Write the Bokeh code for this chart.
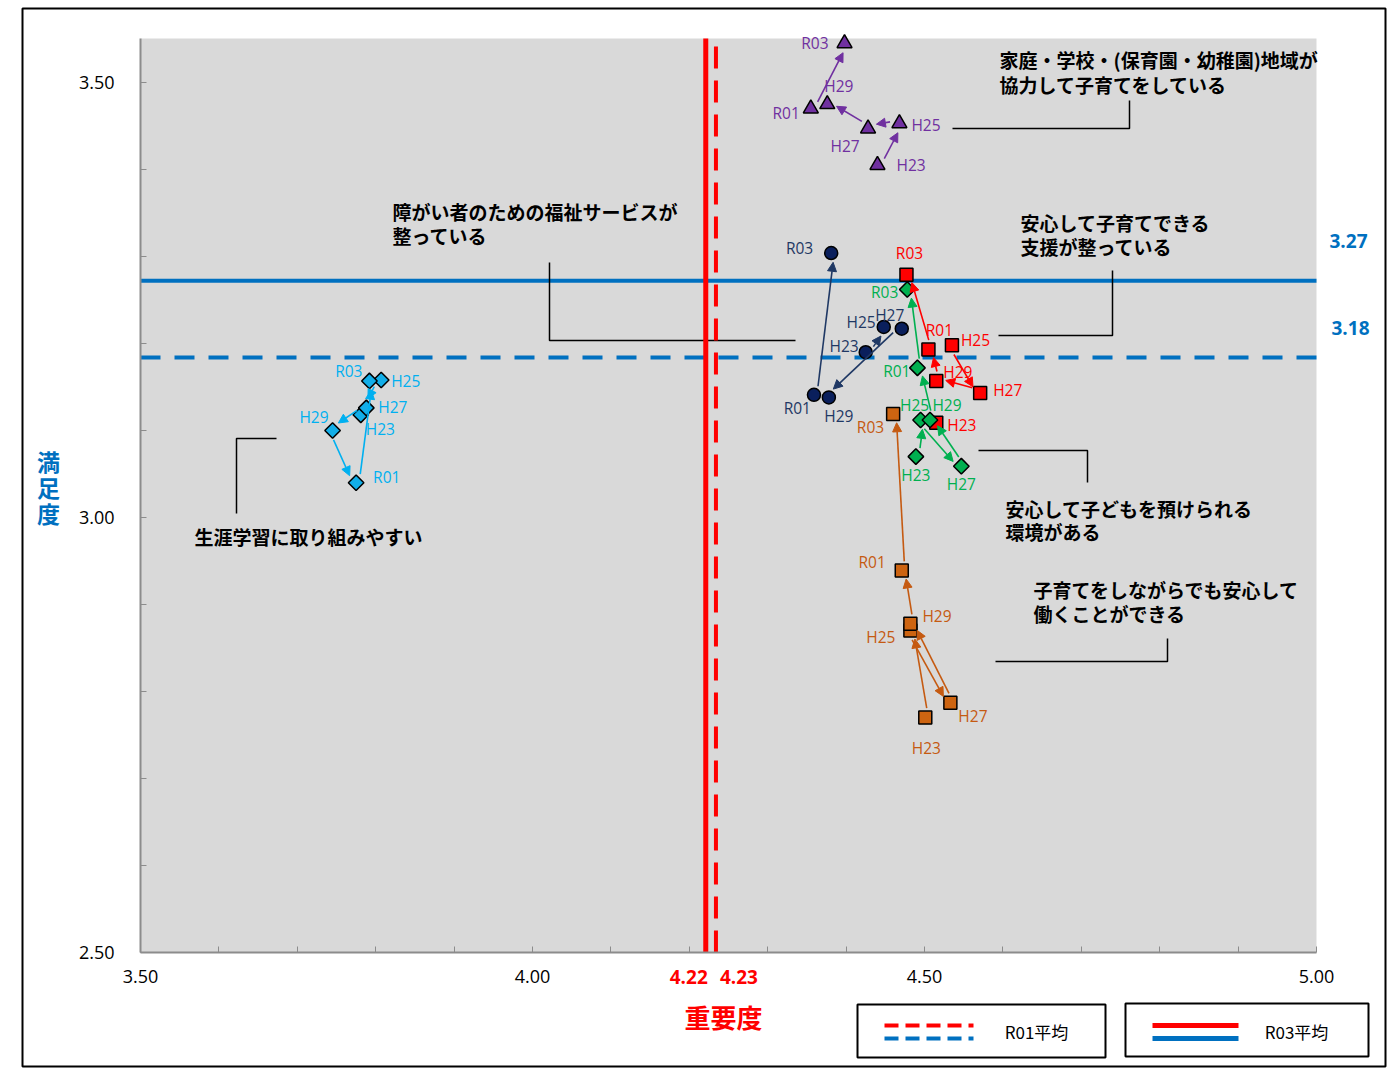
import numpy as np
from bokeh.plotting import figure
from bokeh.models import (Arrow, NormalHead, FixedTicker, ColumnDataSource, Range1d,
                          PrintfTickFormatter, LinearAxis)
from bokeh.core.properties import value
from bokeh.embed import file_html
from bokeh.resources import INLINE

# ---------------- data ----------------
YEARS = ["H23", "H25", "H27", "H29", "R01", "R03"]

# importance (x) / satisfaction (y) per survey year
family_imp = [4.440, 4.468, 4.428, 4.376, 4.355, 4.398]
family_sat = [3.405, 3.453, 3.447, 3.475, 3.470, 3.545]

welfare_imp = [4.425, 4.448, 4.471, 4.378, 4.359, 4.381]
welfare_sat = [3.190, 3.219, 3.217, 3.138, 3.141, 3.304]

support_imp = [4.515, 4.535, 4.571, 4.515, 4.505, 4.477]
support_sat = [3.109, 3.198, 3.143, 3.157, 3.193, 3.279]

daycare_imp = [4.489, 4.495, 4.547, 4.507, 4.491, 4.478]
daycare_sat = [3.070, 3.112, 3.059, 3.112, 3.172, 3.262]

work_imp = [4.501, 4.482, 4.533, 4.482, 4.471, 4.460]
work_sat = [2.770, 2.870, 2.787, 2.878, 2.939, 3.119]

lifelong_imp = [3.781, 3.807, 3.788, 3.745, 3.775, 3.792]
lifelong_sat = [3.118, 3.158, 3.126, 3.100, 3.040, 3.157]

ITEM_TEXT = {
    "family": ["家庭・学校・(保育園・幼稚園)地域が", "協力して子育てをしている"],
    "welfare": ["障がい者のための福祉サービスが", "整っている"],
    "support": ["安心して子育てできる", "支援が整っている"],
    "daycare": ["安心して子どもを預けられる", "環境がある"],
    "work": ["子育てをしながらでも安心して", "働くことができる"],
    "lifelong": ["生涯学習に取り組みやすい"],
}

mean_imp_R01 = 4.234
mean_imp_R03 = 4.221
mean_sat_R01 = 3.184
mean_sat_R03 = 3.272

x_ticks = [3.5, 4.0, 4.5, 5.0]
y_ticks = [2.5, 3.0, 3.5]
x_minor = [3.6, 3.7, 3.8, 3.9, 4.1, 4.2, 4.3, 4.4, 4.6, 4.7, 4.8, 4.9]
y_minor = [2.6, 2.7, 2.8, 2.9, 3.1, 3.2, 3.3, 3.4]
X_LIMITS = (3.5, 5.0)
Y_LIMITS = (2.5, 3.5506)

# ---------------- layout / style ----------------
CW, CH = 1388, 1068          # canvas = frame
KX, KY = 784.0, 870.0        # px per unit
PX0, PY0 = 140, 82           # reference px of (3.5, 3.5)
XR = (3.5 - PX0 / KX, 3.5 + (CW - PX0) / KX)
YR = (3.5 - (CH - PY0) / KY, 3.5 + PY0 / KY)


def DX(px):
    return 3.5 + (px - PX0) / KX


def DY(py):
    return 3.5 - (py - PY0) / KY


JP = "Noto Sans CJK JP"
LAT = "Open Sans"
RED = "#ff0000"
BLUE = "#0070c0"
AXIS_GREY = "#8c8c8c"

STYLE = {
    "family": dict(marker="triangle", size=15, angle=0.0, fill="#7030a0", text="#7030a0"),
    "welfare": dict(marker="circle", size=13, angle=0.0, fill="#0a1f5c", text="#1f3864"),
    "support": dict(marker="square", size=13, angle=0.0, fill="#ff0000", text="#ff0000"),
    "daycare": dict(marker="square", size=11, angle=np.pi / 4, fill="#00b050", text="#00b050"),
    "work": dict(marker="square", size=13, angle=0.0, fill="#cd6411", text="#c55a11"),
    "lifelong": dict(marker="square", size=11, angle=np.pi / 4, fill="#12aee8", text="#00b0f0"),
}

LABEL_POS = {
    "family": [(19, 0, "left"), (12, 2, "left"), (-23, 17, "center"), (-3, -18, "left"), (-11, 4, "right"), (-16, 0, "right")],
    "welfare": [(-7, -6, "right"), (-8, -5, "right"), (-12, -14, "center"), (10, 19, "center"), (-3, 13, "right"), (-18, -5, "right")],
    "support": [(11, 2, "left"), (9, -5, "left"), (13, -3, "left"), (7, -9, "left"), (11, -20, "center"), (3, -22, "center")],
    "daycare": [(0, 18, "center"), (-6, -15, "center"), (0, 18, "center"), (17, -15, "center"), (-7, 3, "right"), (-9, 2, "right")],
    "work": [(1, 30, "center"), (-15, 6, "right"), (8, 13, "left"), (12, -8, "left"), (-16, -9, "right"), (-9, 13, "right")],
    "lifelong": [(5, 14, "left"), (10, 1, "left"), (12, -1, "left"), (-4, -14, "right"), (17, -6, "left"), (-7, -10, "right")],
}
ARROW_SKIP = {"support": [0], "lifelong": [0]}

TEXT_POS = {
    "family": (999, [59, 84]),
    "welfare": (392, [211, 235]),
    "support": (1020, [222, 246]),
    "daycare": (1005, [508, 531]),
    "work": (1033, [589, 613]),
    "lifelong": (194, [536]),
}
LEADERS = {
    "family": [(952, 128), (1129, 128), (1129, 100)],
    "welfare": [(549, 262), (549, 340), (795, 340)],
    "support": [(1112, 270), (1112, 335), (998, 335)],
    "daycare": [(978, 450), (1087, 450), (1087, 482)],
    "work": [(995, 661), (1167, 661), (1167, 638)],
    "lifelong": [(276, 438), (236, 438), (236, 513)],
}

SERIES = {
    "family": (family_imp, family_sat),
    "welfare": (welfare_imp, welfare_sat),
    "support": (support_imp, support_sat),
    "daycare": (daycare_imp, daycare_sat),
    "work": (work_imp, work_sat),
    "lifelong": (lifelong_imp, lifelong_sat),
}

# ---------------- figure ----------------
p = figure(width=CW, height=CH, x_range=Range1d(*XR), y_range=Range1d(*YR),
           output_backend="svg", toolbar_location=None,
           x_axis_location=None, y_axis_location=None,
           min_border=0, min_border_left=0, min_border_right=0, min_border_top=0, min_border_bottom=0,
           background_fill_color="white", border_fill_color="white", outline_line_color=None)
p.grid.visible = False

# outer chart border
p.quad(left=DX(22), right=DX(1385), top=DY(8), bottom=DY(1066), fill_color=None,
       line_color="black", line_width=2)

# plot area
p.quad(left=X_LIMITS[0], right=X_LIMITS[1], bottom=Y_LIMITS[0], top=Y_LIMITS[1],
       fill_color="#d9d9d9", line_color=None)

xax = LinearAxis(fixed_location=Y_LIMITS[0], bounds=X_LIMITS,
                 ticker=FixedTicker(ticks=x_ticks, minor_ticks=x_minor))
yax = LinearAxis(fixed_location=X_LIMITS[0], bounds=Y_LIMITS,
                 ticker=FixedTicker(ticks=y_ticks, minor_ticks=y_minor))
for ax in (xax, yax):
    ax.formatter = PrintfTickFormatter(format="%.2f")
    ax.axis_line_color = AXIS_GREY
    ax.axis_line_width = 2
    ax.major_tick_in = 6
    ax.major_tick_out = 0
    ax.minor_tick_in = 6
    ax.minor_tick_out = 0
    ax.major_tick_line_color = AXIS_GREY
    ax.minor_tick_line_color = AXIS_GREY
    ax.major_label_text_font = LAT
    ax.major_label_text_font_size = "18px"
    ax.major_label_text_color = "black"
xax.major_label_standoff = 17
yax.major_label_standoff = 26
p.add_layout(xax, "below")
p.add_layout(yax, "left")

# blue mean lines (under the markers)
p.segment(x0=[X_LIMITS[0]], y0=[mean_sat_R03], x1=[X_LIMITS[1]], y1=[mean_sat_R03],
          line_color=BLUE, line_width=4)
p.segment(x0=[X_LIMITS[0]], y0=[mean_sat_R01], x1=[X_LIMITS[1]], y1=[mean_sat_R01],
          line_color=BLUE, line_width=4, line_dash="20 14")

# leader lines and item texts
for key, pts in LEADERS.items():
    p.line([DX(a) for a, b in pts], [DY(b) for a, b in pts], line_color="black", line_width=1.5)

tx, ty, tt = [], [], []
for key, (lx, ys) in TEXT_POS.items():
    for line, yy in zip(ITEM_TEXT[key], ys):
        tx.append(DX(lx)); ty.append(DY(yy)); tt.append(line)
p.text(x=tx, y=ty, text=tt, text_font=value(JP), text_font_style="bold", text_font_size="19px",
       text_color="black", text_align="left", text_baseline="middle")

# arrows
G0, G1, OFF = 9, 9, 3
for key, (xs, ys) in SERIES.items():
    c = STYLE[key]["text"]
    a = dict(x0=[], y0=[], x1=[], y1=[])
    for i in range(len(xs) - 1):
        if i in ARROW_SKIP.get(key, []):
            continue
        dxp = (xs[i + 1] - xs[i]) * KX
        dyp = -(ys[i + 1] - ys[i]) * KY
        L = float(np.hypot(dxp, dyp))
        if L < 25:
            continue
        ux, uy = dxp / L, dyp / L
        px_, py_ = -uy * OFF, ux * OFF
        a["x0"].append(xs[i] + (ux * G0 + px_) / KX)
        a["y0"].append(ys[i] - (uy * G0 + py_) / KY)
        a["x1"].append(xs[i + 1] + (-ux * G1 + px_) / KX)
        a["y1"].append(ys[i + 1] - (-uy * G1 + py_) / KY)
    p.add_layout(Arrow(end=NormalHead(size=9, fill_color=c, line_color=c, line_width=1),
                       x_start="x0", y_start="y0", x_end="x1", y_end="y1",
                       source=ColumnDataSource(a), line_color=c, line_width=1.6))

# markers and year labels
for key, (xs, ys) in SERIES.items():
    st = STYLE[key]
    p.scatter(xs, ys, marker=st["marker"], size=st["size"], angle=st["angle"],
              fill_color=st["fill"], line_color="black", line_width=1.5)
    pos = LABEL_POS[key]
    src = ColumnDataSource(dict(x=xs, y=ys, t=YEARS, dx=[q[0] for q in pos],
                                dy=[q[1] for q in pos], al=[q[2] for q in pos]))
    p.text(x="x", y="y", text="t", source=src, x_offset="dx", y_offset="dy", text_align="al",
           text_baseline="middle", text_font=value(LAT), text_font_size="15.5px", text_color=st["text"])

# red mean lines (on top)
p.segment(x0=[mean_imp_R03], y0=[Y_LIMITS[0]], x1=[mean_imp_R03], y1=[Y_LIMITS[1]],
          line_color=RED, line_width=5)
p.segment(x0=[mean_imp_R01], y0=[Y_LIMITS[0]], x1=[mean_imp_R01], y1=[Y_LIMITS[1]],
          line_color=RED, line_width=4, line_dash="22 12")


def txt(x, y, text, color, font, size, bold=True, align="center"):
    p.text(x=[x], y=[y], text=[text], text_align=align, text_baseline="middle",
           text_color=color, text_font=value(font), text_font_style="bold" if bold else "normal",
           text_font_size=size)


# mean value labels
txt(mean_imp_R03 - 17 / KX, DY(976), f"{mean_imp_R03:.2f}", RED, LAT, "19px")
txt(mean_imp_R01 + 23 / KX, DY(976), f"{mean_imp_R01:.2f}", RED, LAT, "19px")
txt(DX(1329), mean_sat_R03 + 40 / KY, f"{mean_sat_R03:.2f}", BLUE, LAT, "19px", align="left")
txt(DX(1331), mean_sat_R01 + 29 / KY, f"{mean_sat_R01:.2f}", BLUE, LAT, "19px", align="left")

# axis titles
txt(DX(723), DY(1016), "重要度", RED, JP, "26px")
for ch, yy in zip("満足度", [460, 486, 512]):
    txt(DX(48), DY(yy), ch, BLUE, JP, "23px")

# legend
p.quad(left=[DX(857), DX(1125)], right=[DX(1105), DX(1368)], top=[DY(1004), DY(1003)],
       bottom=[DY(1057), DY(1056)], fill_color="white", line_color="black", line_width=2)
for col, yc in ((RED, 1025), (BLUE, 1038)):
    p.segment(x0=[DX(884)], y0=[DY(yc)], x1=[DX(973)], y1=[DY(yc)], line_color=col,
              line_width=4, line_dash="14 7")
    p.segment(x0=[DX(1152)], y0=[DY(yc)], x1=[DX(1238)], y1=[DY(yc)], line_color=col, line_width=5)
txt(DX(1036), DY(1031), "R01平均", "black", JP, "17px", bold=False)
txt(DX(1296), DY(1031), "R03平均", "black", JP, "17px", bold=False)

open("out.html", "w").write(file_html(p, INLINE))
